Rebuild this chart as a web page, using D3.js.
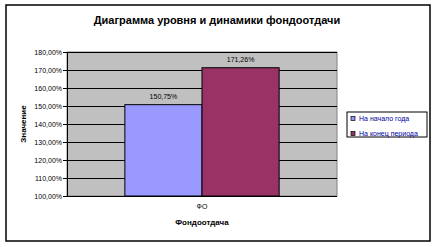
<!DOCTYPE html>
<html>
<head>
<meta charset="utf-8">
<script src="https://cdn.jsdelivr.net/npm/d3@7"></script>
<style>
body { margin: 0; background: #fff; }
svg { display: block; font-family: "Liberation Sans", Arial, sans-serif; }
</style>
</head>
<body>
<svg id="chart" width="437" height="247"></svg>
<script>
const categories = ["ФО"];
const seriesNames = ["На начало года", "На конец периода"];
const seriesValues = [150.75, 171.26];
const seriesColors = ["#9999ff", "#993366"];
const yTicks = [100, 110, 120, 130, 140, 150, 160, 170, 180];

const svg = d3.select("#chart");
const fmt = v => d3.format(".2f")(v).replace(".", ",") + "%";

// outer frame
svg.append("rect").attr("x", 6).attr("y", 5).attr("width", 424).attr("height", 236)
  .attr("fill", "#fff").attr("stroke", "#000").attr("stroke-width", 1.5);

svg.append("text").attr("x", 217).attr("y", 24).attr("text-anchor", "middle")
  .attr("font-size", 11).attr("font-weight", "bold").text("Диаграмма уровня и динамики фондоотдачи");

const pLeft = 67, pRight = 337, pTop = 52, pBottom = 196;

const y = d3.scaleLinear().domain([100, 180]).range([pBottom, pTop]);
const x = d3.scaleBand().domain(categories).range([pLeft, pRight]).paddingInner(0).paddingOuter(0);
const xs = d3.scaleBand().domain(seriesNames).range([0, x.bandwidth()]).paddingInner(0).paddingOuter(0.75);

svg.append("rect").attr("x", pLeft).attr("y", pTop).attr("width", pRight - pLeft).attr("height", pBottom - pTop)
  .attr("fill", "#c0c0c0").attr("stroke", "#808080");

svg.append("g").selectAll("line").data(yTicks.slice(1)).join("line")
  .attr("x1", pLeft).attr("x2", pRight).attr("y1", d => y(d)).attr("y2", d => y(d))
  .attr("stroke", "#000").attr("stroke-width", 1).attr("shape-rendering", "crispEdges");

const yAxis = svg.append("g").attr("transform", `translate(${pLeft},0)`)
  .call(d3.axisLeft(y).tickValues(yTicks).tickFormat(fmt).tickSizeInner(4).tickSizeOuter(0).tickPadding(1));
yAxis.select(".domain").attr("stroke", "#000").attr("shape-rendering", "crispEdges");
yAxis.selectAll(".tick line").attr("stroke", "#000").attr("shape-rendering", "crispEdges");
yAxis.selectAll("text").attr("font-size", 7).attr("fill", "#000").attr("font-family", "Liberation Sans, Arial");

svg.append("line").attr("x1", pLeft).attr("x2", pRight).attr("y1", pBottom).attr("y2", pBottom)
  .attr("stroke", "#000").attr("shape-rendering", "crispEdges");

const g = svg.append("g");
g.selectAll("rect").data(seriesValues).join("rect")
  .attr("x", (d, i) => x(categories[0]) + xs(seriesNames[i]))
  .attr("y", d => y(d))
  .attr("width", xs.bandwidth())
  .attr("height", d => pBottom - y(d))
  .attr("fill", (d, i) => seriesColors[i])
  .attr("stroke", "#000").attr("stroke-width", 1);

g.selectAll("text").data(seriesValues).join("text")
  .attr("x", (d, i) => x(categories[0]) + xs(seriesNames[i]) + xs.bandwidth() / 2)
  .attr("y", d => y(d) - 6)
  .attr("text-anchor", "middle").attr("font-size", 7).text(fmt);

svg.append("text").attr("x", x(categories[0]) + x.bandwidth() / 2).attr("y", 209)
  .attr("text-anchor", "middle").attr("font-size", 7).text(categories[0]);

svg.append("text").attr("x", 202).attr("y", 225).attr("text-anchor", "middle")
  .attr("font-size", 8).attr("font-weight", "bold").text("Фондоотдача");

svg.append("text").attr("transform", "translate(26,124) rotate(-90)").attr("text-anchor", "middle")
  .attr("font-size", 8).attr("font-weight", "bold").text("Значение");

// legend
const lg = svg.append("g").attr("transform", "translate(347,112)");
lg.append("rect").attr("width", 80).attr("height", 25).attr("fill", "#fff").attr("stroke", "#000");
const items = lg.selectAll("g").data(seriesNames).join("g")
  .attr("transform", (d, i) => `translate(4,${5 + i * 15})`);
items.append("rect").attr("width", 4).attr("height", 4).attr("y", -0.5)
  .attr("fill", (d, i) => seriesColors[i]).attr("stroke", "#000").attr("stroke-width", 0.7);
items.append("text").attr("x", 8).attr("y", 4).attr("font-size", 7).attr("fill", "#0000a0").text(d => d);
</script>
</body>
</html>
